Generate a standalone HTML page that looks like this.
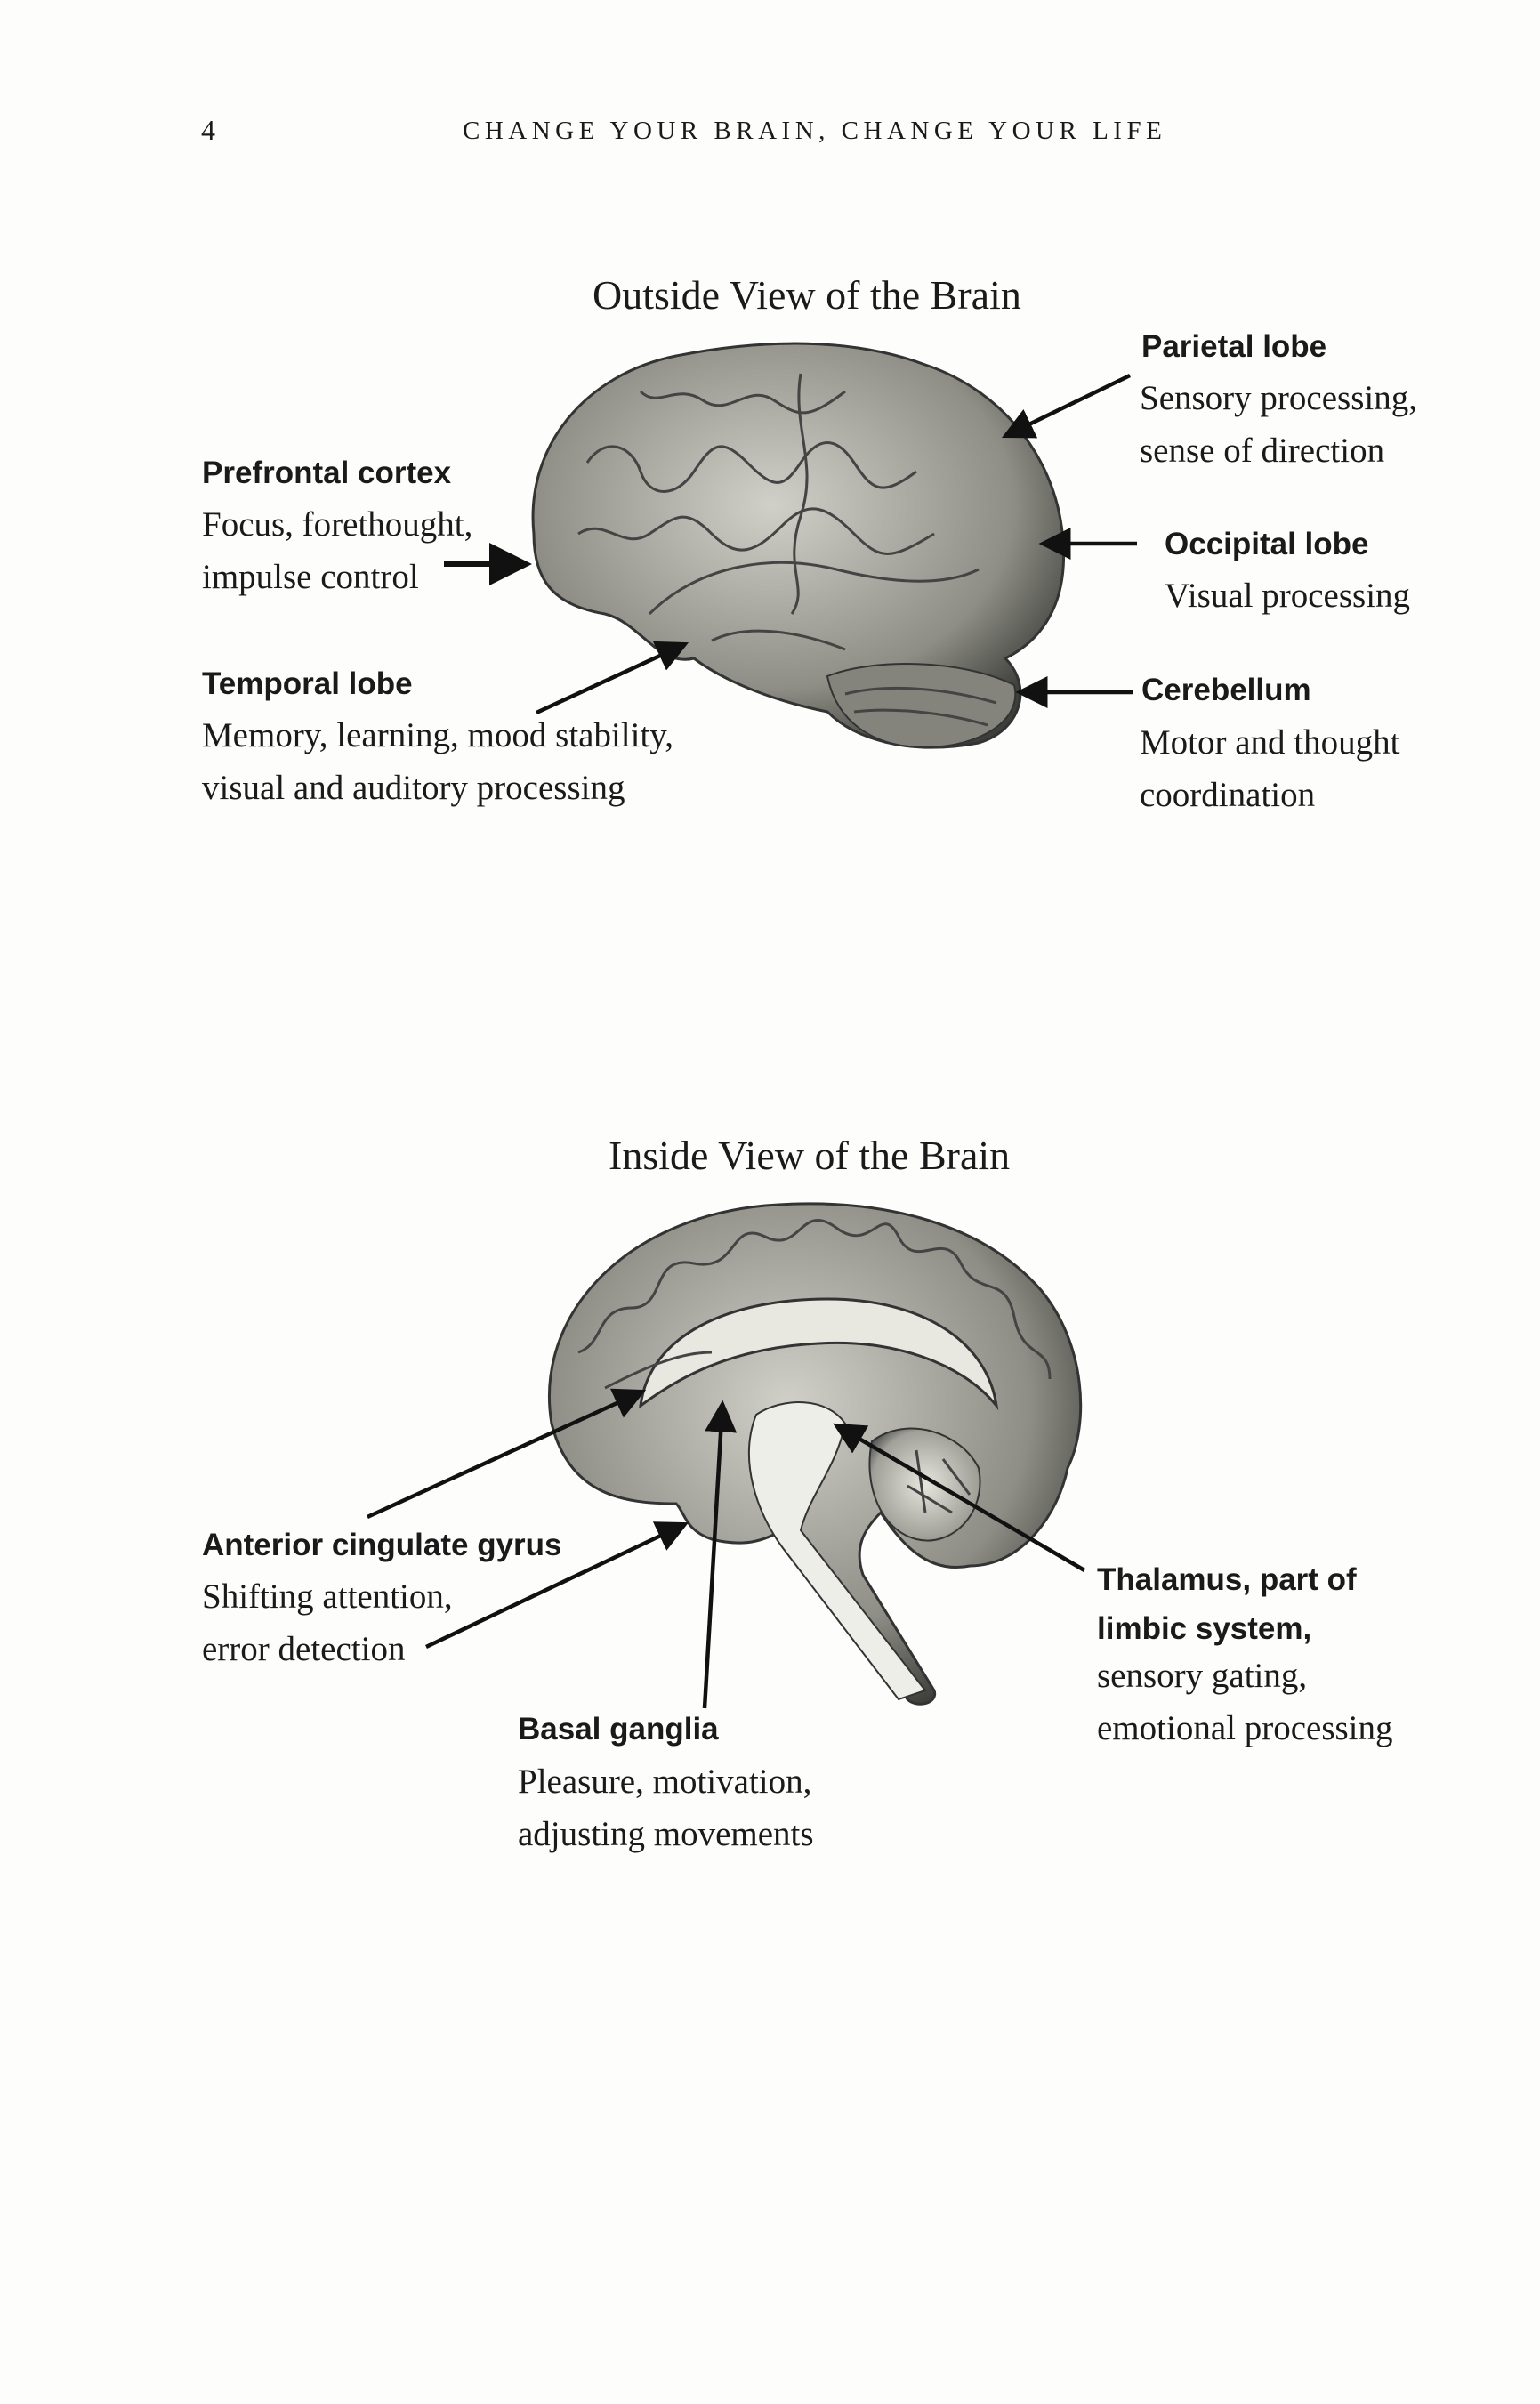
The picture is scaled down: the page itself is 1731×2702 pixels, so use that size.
<!DOCTYPE html>
<html><head><meta charset="utf-8"><style>
html,body{margin:0;padding:0;background:#fdfdfc;}
body{width:1731px;height:2702px;position:relative;overflow:hidden;font-family:"Liberation Serif",serif;color:#1a1a1a;}
.a{position:absolute;white-space:nowrap;}
.h{font-size:46px;}
.b{font-family:"Liberation Sans",sans-serif;font-weight:bold;font-size:35px;}
.s{font-size:39px;line-height:59px;}
</style></head><body>
<div class="a" style="left:226px;top:128px;font-size:32px;">4</div>
<div class="a" style="left:520px;top:131px;font-size:29px;letter-spacing:5.5px;">CHANGE YOUR BRAIN, CHANGE YOUR LIFE</div>
<div class="a h" style="left:666px;top:305px;">Outside View of the Brain</div>
<div class="a h" style="left:684px;top:1272px;">Inside View of the Brain</div>

<svg class="a" style="left:0;top:0" width="1731" height="2702">
<defs>
<radialGradient id="g" cx="45%" cy="40%" r="65%"><stop offset="0" stop-color="#d0d0c8"/><stop offset="0.7" stop-color="#8e8e86"/><stop offset="1" stop-color="#3e3e3a"/></radialGradient>
<radialGradient id="g2" cx="50%" cy="50%" r="60%"><stop offset="0" stop-color="#e6e6de"/><stop offset="0.8" stop-color="#a0a098"/><stop offset="1" stop-color="#555"/></radialGradient>
<marker id="m" markerWidth="8" markerHeight="8" refX="7" refY="4" orient="auto"><path d="M0,0 L8,4 L0,8 z" fill="#111"/></marker>
</defs>
<path d="M600,600 C590,500 660,420 760,400 C860,380 960,380 1040,410 C1130,440 1190,520 1195,610 C1200,680 1170,720 1130,740 C1160,770 1150,820 1100,835 C1020,850 960,830 930,800 C880,790 820,770 780,740 C740,750 720,700 680,690 C620,680 600,650 600,600 Z" fill="url(#g)" stroke="#333" stroke-width="3"/>
<path d="M930,760 C980,740 1080,740 1140,770 C1150,810 1100,840 1040,840 C980,840 940,810 930,760Z" fill="#84847c" stroke="#333" stroke-width="2"/>
<g fill="none" stroke="#444" stroke-width="3">
<path d="M730,690 C780,640 860,620 940,640 C1000,655 1060,660 1100,640"/>
<path d="M660,520 c20,-30 50,-20 60,10 s40,30 60,0 s30,-40 60,-10 s40,30 60,0 s40,-30 60,0 s30,40 70,10"/>
<path d="M650,600 c30,-20 50,20 80,0 s40,-30 70,0 s50,20 80,-10 s50,-20 80,10 s40,30 90,0"/>
<path d="M720,440 c20,20 40,-10 70,10 s50,-20 80,0 s40,20 80,-10"/>
<path d="M900,420 c-10,60 20,100 0,160 s10,80 -10,110"/>
<path d="M800,720 c40,-20 100,-10 150,10"/>
<path d="M950,780 c40,-10 100,-10 170,10 M960,800 c40,-5 100,0 150,15"/>
</g>
<path d="M620,1600 C600,1480 700,1370 860,1355 C980,1345 1100,1370 1170,1450 C1220,1510 1225,1600 1200,1650 C1190,1700 1150,1760 1090,1760 C1040,1770 1010,1730 990,1700 C970,1720 960,1740 970,1770 L1050,1900 C1055,1915 1030,1920 1020,1910 L950,1800 C920,1760 900,1740 880,1720 C860,1730 840,1740 800,1730 C770,1720 770,1700 760,1690 C700,1690 640,1680 620,1600 Z" fill="url(#g)" stroke="#333" stroke-width="3"/>
<path d="M720,1580 C730,1500 820,1460 930,1460 C1040,1460 1110,1510 1120,1580 C1080,1530 1000,1505 920,1510 C820,1515 760,1550 720,1580Z" fill="#e8e8e0" stroke="#333" stroke-width="3"/>
<path d="M980,1620 C1020,1590 1080,1610 1100,1650 C1110,1700 1070,1740 1030,1730 C990,1720 970,1670 980,1620Z" fill="url(#g2)" stroke="#333" stroke-width="2"/>
<path d="M850,1590 C880,1570 930,1570 950,1600 C940,1650 910,1680 900,1720 L1040,1900 L1010,1910 L880,1740 C850,1700 830,1640 850,1590Z" fill="#eeeee8" stroke="#333" stroke-width="2"/>
<g fill="none" stroke="#444" stroke-width="3">
<path d="M650,1520 c30,-10 20,-50 60,-50 s20,-60 70,-50 s40,-50 80,-30 s40,-40 80,-10 s50,-30 70,10 s50,-10 70,30 s50,10 60,60 s40,30 40,70"/>
<path d="M680,1560 c40,-20 80,-40 120,-40"/>
<path d="M1060,1640 l30,40 M1030,1630 l10,70 M1070,1700 l-50,-30"/>
</g>
<g stroke="#111" stroke-width="4.5" marker-end="url(#m)">
<line x1="1270" y1="422" x2="1130" y2="490"/>
<line x1="499" y1="634" x2="592" y2="634" stroke-width="6"/>
<line x1="1278" y1="611" x2="1172" y2="611"/>
<line x1="1274" y1="778" x2="1146" y2="778"/>
<line x1="603" y1="801" x2="770" y2="724"/>
<line x1="413" y1="1705" x2="722" y2="1564"/>
<line x1="479" y1="1851" x2="770" y2="1713"/>
<line x1="792" y1="1920" x2="812" y2="1578"/>
<line x1="1219" y1="1765" x2="940" y2="1602"/>
</g>
</svg>

<div class="a b" style="left:1283px;top:370px;">Parietal lobe</div>
<div class="a s" style="left:1281px;top:418px;">Sensory processing,<br>sense of direction</div>
<div class="a b" style="left:227px;top:512px;">Prefrontal cortex</div>
<div class="a s" style="left:227px;top:560px;">Focus, forethought,<br>impulse control</div>
<div class="a b" style="left:1309px;top:592px;">Occipital lobe</div>
<div class="a s" style="left:1309px;top:640px;">Visual processing</div>
<div class="a b" style="left:227px;top:749px;">Temporal lobe</div>
<div class="a s" style="left:227px;top:797px;">Memory, learning, mood stability,<br>visual and auditory processing</div>
<div class="a b" style="left:1283px;top:756px;">Cerebellum</div>
<div class="a s" style="left:1281px;top:805px;">Motor and thought<br>coordination</div>
<div class="a b" style="left:227px;top:1717px;">Anterior cingulate gyrus</div>
<div class="a s" style="left:227px;top:1765px;">Shifting attention,<br>error detection</div>
<div class="a b" style="left:582px;top:1924px;">Basal ganglia</div>
<div class="a s" style="left:582px;top:1973px;">Pleasure, motivation,<br>adjusting movements</div>
<div class="a b" style="left:1233px;top:1748px;line-height:55px;">Thalamus, part of<br>limbic system,</div>
<div class="a s" style="left:1233px;top:1854px;">sensory gating,<br>emotional processing</div>
</body></html>
